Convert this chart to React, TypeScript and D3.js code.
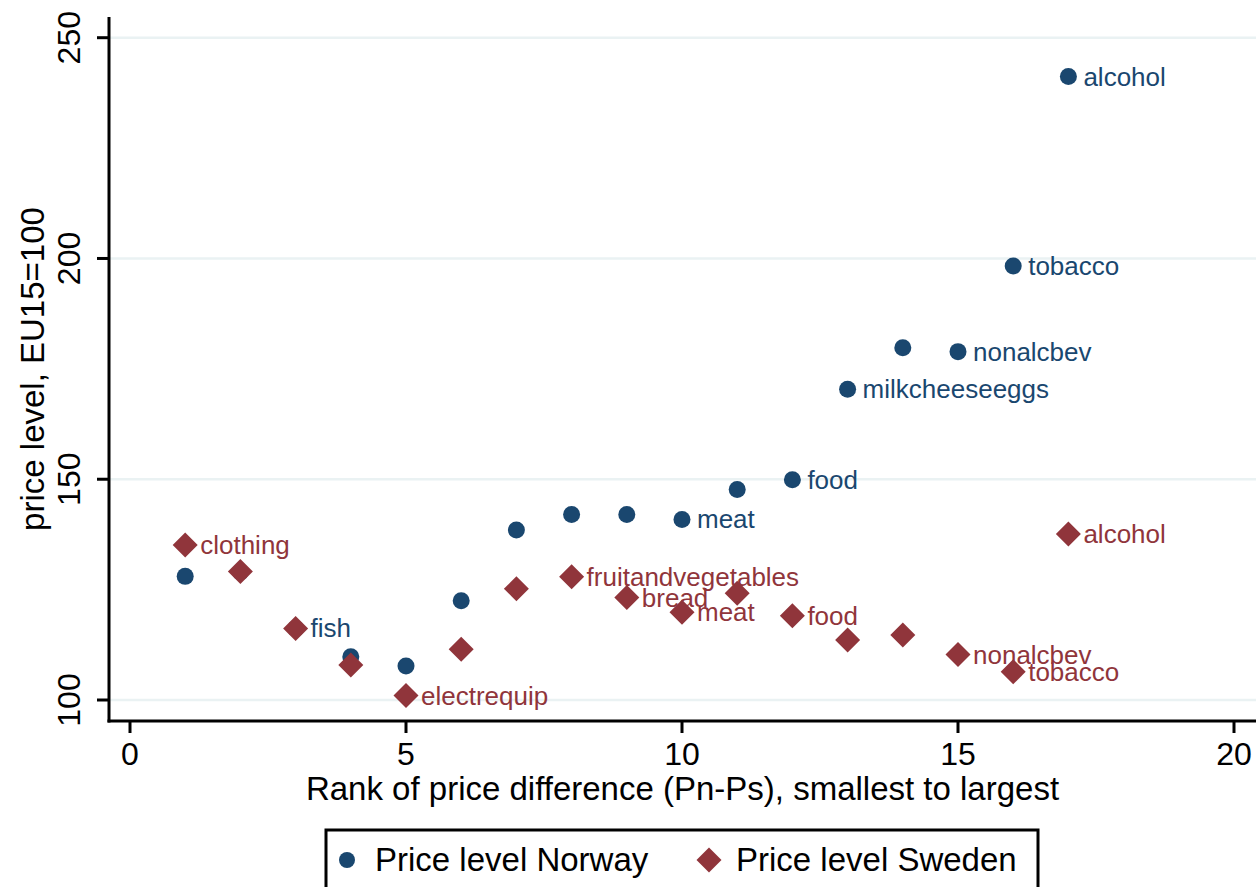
import React from "react";
import * as d3 from "d3";

const ranks = [1, 2, 3, 4, 5, 6, 7, 8, 9, 10, 11, 12, 13, 14, 15, 16, 17];
const norway = [128, 129, 116.2, 109.8, 107.7, 122.5, 138.5, 142.0, 142.0, 140.9, 147.7, 149.9, 170.4, 179.8, 178.9, 198.3, 241.2];
const sweden = [135.1, 129.1, 116.2, 107.9, 101.0, 111.5, 125.2, 127.9, 123.2, 119.9, 124.2, 119.1, 113.6, 114.7, 110.3, 106.4, 137.6];
const norwayLabels = ["", "", "fish", "", "", "", "", "", "", "meat", "", "food", "milkcheeseeggs", "", "nonalcbev", "tobacco", "alcohol"];
const swedenLabels = ["clothing", "", "", "", "electrequip", "", "", "fruitandvegetables", "bread", "meat", "", "food", "", "", "nonalcbev", "tobacco", "alcohol"];
const xTicks = [0, 5, 10, 15, 20];
const yTicks = [100, 150, 200, 250];
const seriesNames = ["Price level Norway", "Price level Sweden"];

const NAVY = "#1a476f";
const MAROON = "#90353b";
const FONT = "'Liberation Sans', Arial, Helvetica, sans-serif";

export default function App() {
  const W = 1256, H = 887;
  const plotLeft = 109, plotRight = 1256, plotTop = 17, plotBottom = 721;
  const x = d3.scaleLinear().domain([0, 20]).range([130, 1234]);
  const y = d3.scaleLinear().domain([100, 250]).range([700, 37.7]);
  const diamond = (cx: number, cy: number, r: number) =>
    `M${cx},${cy - r}L${cx + r},${cy}L${cx},${cy + r}L${cx - r},${cy}Z`;

  return (
    <svg width={W} height={H} style={{ position: "absolute", left: 0, top: 0, display: "block", background: "#fff" }} fontFamily={FONT}>
      <rect x={0} y={0} width={W} height={H} fill="#fff" />
      {/* gridlines */}
      {yTicks.map((t) => (
        <line key={"g" + t} x1={plotLeft + 1} x2={plotRight} y1={y(t)} y2={y(t)} stroke="#eaf2f3" strokeWidth={2.5} />
      ))}
      {/* axes */}
      <line x1={plotLeft} x2={plotLeft} y1={plotTop} y2={plotBottom + 1.5} stroke="#000" strokeWidth={3} />
      <line x1={plotLeft - 1.5} x2={plotRight} y1={plotBottom} y2={plotBottom} stroke="#000" strokeWidth={3} />
      {yTicks.map((t) => (
        <g key={"yt" + t}>
          <line x1={plotLeft - 12} x2={plotLeft} y1={y(t)} y2={y(t)} stroke="#000" strokeWidth={3} />
          <text transform={`translate(80,${y(t)}) rotate(-90)`} textAnchor="middle" fontSize={32} fill="#000">
            {t}
          </text>
        </g>
      ))}
      {xTicks.map((t) => (
        <g key={"xt" + t}>
          <line x1={x(t)} x2={x(t)} y1={plotBottom} y2={plotBottom + 12} stroke="#000" strokeWidth={3} />
          <text x={x(t)} y={765} textAnchor="middle" fontSize={32} fill="#000">
            {t}
          </text>
        </g>
      ))}
      <text x={(plotLeft + plotRight) / 2} y={800} textAnchor="middle" fontSize={33} fill="#000">
        Rank of price difference (Pn-Ps), smallest to largest
      </text>
      <text transform={`translate(44,${(plotTop + plotBottom) / 2}) rotate(-90)`} textAnchor="middle" fontSize={33} fill="#000">
        price level, EU15=100
      </text>

      {/* Norway */}
      {ranks.map((r, i) => (
        <circle key={"n" + r} cx={x(r)} cy={y(norway[i])} r={8.5} fill={NAVY} />
      ))}
      {ranks.map((r, i) =>
        norwayLabels[i] ? (
          <text key={"nl" + r} x={x(r) + 15} y={y(norway[i]) + 9} fontSize={26} fill={NAVY}>
            {norwayLabels[i]}
          </text>
        ) : null
      )}
      {/* Sweden */}
      {ranks.map((r, i) => (
        <path key={"s" + r} d={diamond(x(r), y(sweden[i]), 12.5)} fill={MAROON} />
      ))}
      {ranks.map((r, i) =>
        swedenLabels[i] ? (
          <text key={"sl" + r} x={x(r) + 15} y={y(sweden[i]) + 9} fontSize={26} fill={MAROON}>
            {swedenLabels[i]}
          </text>
        ) : null
      )}

      {/* legend */}
      <rect x={326} y={830} width={712} height={80} fill="#fff" stroke="#000" strokeWidth={3} />
      <circle cx={347} cy={860} r={8} fill={NAVY} />
      <text x={375} y={871} fontSize={33} fill="#000">{seriesNames[0]}</text>
      <path d={diamond(709, 860, 12.5)} fill={MAROON} />
      <text x={736} y={871} fontSize={33} fill="#000">{seriesNames[1]}</text>
    </svg>
  );
}
